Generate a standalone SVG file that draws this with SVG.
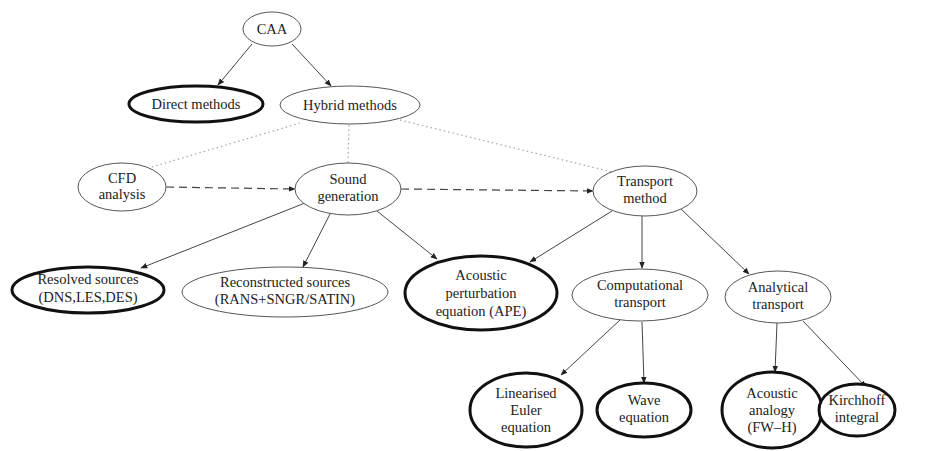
<svg xmlns="http://www.w3.org/2000/svg" width="936" height="451" viewBox="0 0 936 451">
<defs>
<marker id="ah" viewBox="0 0 10 10" refX="9" refY="5" markerWidth="7" markerHeight="7" markerUnits="userSpaceOnUse" orient="auto">
<path d="M0,1 L10,5 L0,9 Z" fill="#222"/>
</marker>
</defs>
<style>
.n{fill:#fff;stroke:#555;stroke-width:1}
.b{fill:#fff;stroke:#111;stroke-width:3}
.t{font-family:"Liberation Serif","Times New Roman",serif;font-size:14.5px;fill:#222;text-anchor:middle}
.s{stroke:#444;stroke-width:1;fill:none;marker-end:url(#ah)}
.d{stroke:#444;stroke-width:1.2;fill:none;stroke-dasharray:8 5;marker-end:url(#ah)}
.o{stroke:#aaa;stroke-width:1.3;fill:none;stroke-dasharray:1.5 3}
</style>
<rect width="936" height="451" fill="#fff"/>
<g id="connectors">
<line class="o" x1="300" y1="123" x2="152" y2="167"/>
<line class="o" x1="349" y1="125" x2="348" y2="163"/>
<line class="o" x1="400" y1="120" x2="612" y2="172"/>
<line class="s" x1="252" y1="44" x2="218" y2="85"/>
<line class="s" x1="292" y1="44" x2="331" y2="86"/>
<line class="d" x1="166" y1="187" x2="295" y2="189"/>
<line class="d" x1="401" y1="189" x2="593" y2="191"/>
<line class="s" x1="305" y1="203" x2="141" y2="268"/>
<line class="s" x1="330" y1="214" x2="303" y2="267"/>
<line class="s" x1="377" y1="211" x2="437" y2="259"/>
<line class="s" x1="612" y1="211" x2="530" y2="262"/>
<line class="s" x1="642" y1="216" x2="642" y2="268"/>
<line class="s" x1="680" y1="208" x2="749" y2="274"/>
<line class="s" x1="620" y1="320" x2="561" y2="375"/>
<line class="s" x1="642" y1="322" x2="644" y2="383"/>
<line class="s" x1="777" y1="323" x2="775" y2="372"/>
<line class="s" x1="803" y1="321" x2="866" y2="387"/>
</g>
<g id="caa"><ellipse class="n" cx="272" cy="29" rx="29" ry="17"/><text class="t" x="272" y="34">CAA</text></g>
<g id="direct"><ellipse class="b" cx="196" cy="104" rx="67" ry="18"/><text class="t" x="196" y="109">Direct methods</text></g>
<g id="hybrid"><ellipse class="n" cx="350" cy="105" rx="70" ry="19"/><text class="t" x="350" y="110">Hybrid methods</text></g>
<g id="cfd"><ellipse class="n" cx="122" cy="187" rx="44" ry="24"/><text class="t" x="122" y="183">CFD</text><text class="t" x="122" y="199">analysis</text></g>
<g id="sound"><ellipse class="n" cx="348" cy="189" rx="53" ry="26"/><text class="t" x="348" y="184">Sound</text><text class="t" x="348" y="201">generation</text></g>
<g id="transport"><ellipse class="n" cx="645" cy="191" rx="52" ry="25"/><text class="t" x="645" y="186">Transport</text><text class="t" x="645" y="203">method</text></g>
<g id="resolved"><ellipse class="b" cx="88" cy="290" rx="76" ry="23"/><text class="t" x="88" y="284">Resolved sources</text><text class="t" x="88" y="302">(DNS,LES,DES)</text></g>
<g id="reconstructed"><ellipse class="n" cx="285" cy="292" rx="103" ry="25"/><text class="t" x="285" y="287">Reconstructed sources</text><text class="t" x="285" y="304">(RANS+SNGR/SATIN)</text></g>
<g id="ape"><ellipse class="b" cx="481" cy="293" rx="76" ry="37"/><text class="t" x="481" y="280">Acoustic</text><text class="t" x="481" y="298">perturbation</text><text class="t" x="481" y="316">equation (APE)</text></g>
<g id="computational"><ellipse class="n" cx="640" cy="295" rx="68" ry="26"/><text class="t" x="640" y="290">Computational</text><text class="t" x="640" y="307">transport</text></g>
<g id="analytical"><ellipse class="n" cx="778" cy="297" rx="53" ry="26"/><text class="t" x="778" y="292">Analytical</text><text class="t" x="778" y="309">transport</text></g>
<g id="linearised"><ellipse class="b" cx="526" cy="410" rx="56" ry="37"/><text class="t" x="526" y="398">Linearised</text><text class="t" x="526" y="415">Euler</text><text class="t" x="526" y="432">equation</text></g>
<g id="wave"><ellipse class="b" cx="644" cy="410" rx="47" ry="27"/><text class="t" x="644" y="405">Wave</text><text class="t" x="644" y="422">equation</text></g>
<g id="analogy"><ellipse class="b" cx="772" cy="410" rx="50" ry="38"/><text class="t" x="772" y="398">Acoustic</text><text class="t" x="772" y="415">analogy</text><text class="t" x="772" y="432">(FW–H)</text></g>
<g id="kirchhoff"><ellipse class="b" cx="857" cy="410" rx="38" ry="26"/><text class="t" x="857" y="405">Kirchhoff</text><text class="t" x="857" y="422">integral</text></g>
</svg>
